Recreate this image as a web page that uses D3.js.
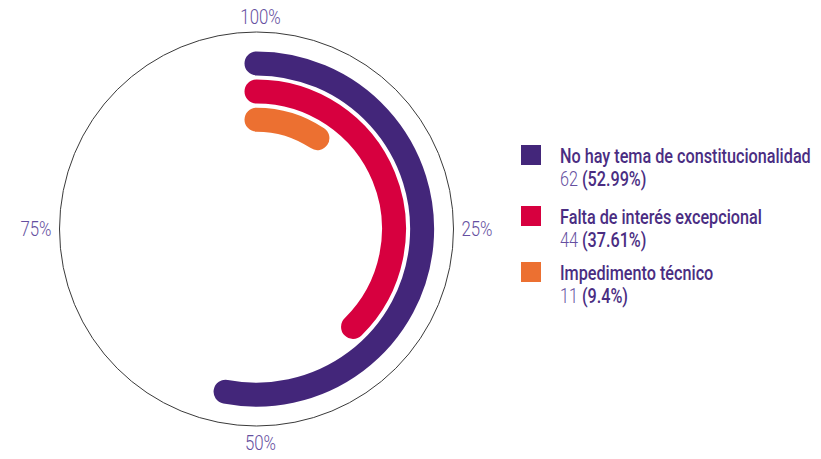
<!DOCTYPE html>
<html>
<head>
<meta charset="utf-8">
<script src="https://cdn.jsdelivr.net/npm/d3@7"></script>
<style>
  html, body { margin: 0; padding: 0; background: #fff; }
  svg { display: block; }
  text { font-family: Roboto, "DejaVu Sans", sans-serif; }
</style>
</head>
<body>
<svg id="chart" width="821" height="459"></svg>
<script>
// chart values
const categories = ['No hay tema de constitucionalidad', 'Falta de interés excepcional', 'Impedimento técnico']
const counts = [62, 44, 11]
const percents = [52.99, 37.61, 9.4]
const colors = ['#43267a', '#d7003f', '#ec7031']
const tickValues = [0, 25, 50, 75]
const tickLabels = ['100%', '25%', '50%', '75%']

const svg = d3.select('#chart')
const cx = 256.5, cy = 229, R = 197
const barWidth = 24

const angle = d3.scaleLinear().domain([0, 100]).range([0, 2 * Math.PI])
const radius = d3.scaleBand().domain(categories).range([178, 97]).paddingInner(0.12)

const g = svg.append('g').attr('transform', `translate(${cx},${cy})`)

// outer ring
g.append('circle')
    .attr('r', R)
    .attr('fill', 'none')
    .attr('stroke', '#3a3a3a')
    .attr('stroke-width', 1)

// bars as round-capped arcs
const arcPath = (r, v) => {
    const p = d3.path()
    p.arc(0, 0, r, angle(0) - Math.PI / 2, angle(v) - Math.PI / 2)
    return p.toString()
}

g.selectAll('path.bar')
    .data(categories)
    .enter()
    .append('path')
    .attr('class', 'bar')
    .attr('d', (d, i) => arcPath(radius(d) + radius.bandwidth() / 2, percents[i]))
    .attr('fill', 'none')
    .attr('stroke', (d, i) => colors[i])
    .attr('stroke-width', barWidth)
    .attr('stroke-linecap', 'round')

// squeeze a text to a narrow look
const narrow = (sel, k) => sel.each(function () {
    const t = d3.select(this)
    const x = +t.attr('x') || 0
    t.attr('transform', `translate(${x},0) scale(${k},1) translate(${-x},0)`)
})

// tick labels round the ring
const off = R + 8
g.selectAll('text.tick')
    .data(tickValues)
    .enter()
    .append('text')
    .attr('class', 'tick')
    .attr('x', d => off * Math.sin(angle(d)) + (d === 0 || d === 50 ? 4 : 0))
    .attr('y', d => -off * Math.cos(angle(d)))
    .attr('text-anchor', d => d === 25 ? 'start' : d === 75 ? 'end' : 'middle')
    .attr('dominant-baseline', d => d === 0 ? 'auto' : d === 50 ? 'hanging' : 'central')
    .attr('font-size', 21)
    .attr('font-weight', 300)
    .attr('fill', '#654fa0')
    .text((d, i) => tickLabels[i])
    .call(narrow, 0.8)

// legend
const legendY = [145, 206, 262]
const legend = svg.append('g')
    .selectAll('g')
    .data(categories)
    .enter()
    .append('g')
    .attr('transform', (d, i) => `translate(521,${legendY[i]})`)

legend.append('rect')
    .attr('width', 20)
    .attr('height', 20)
    .attr('fill', (d, i) => colors[i])

const names = legend.append('text')
    .attr('class', 'name')
    .attr('x', 39)
    .attr('y', 18)
    .attr('font-size', 20)
    .attr('font-weight', 500)
    .attr('fill', '#4a2d82')
    .text(d => d)

const sub = legend.append('text')
    .attr('class', 'sub')
    .attr('x', 39)
    .attr('y', 41)
    .attr('font-size', 20)
sub.append('tspan')
    .attr('fill', '#654fa0')
    .attr('font-weight', 300)
    .text((d, i) => counts[i] + ' ')
sub.append('tspan')
    .attr('fill', '#4a2d82')
    .attr('font-weight', 500)
    .text((d, i) => '(' + percents[i] + '%)')

// fit the longest name to the width it takes in the original
const w = names.nodes()[0].getComputedTextLength()
const k = Math.min(1, 251 / w)
names.call(narrow, k)
sub.call(narrow, k)
</script>
</body>
</html>
